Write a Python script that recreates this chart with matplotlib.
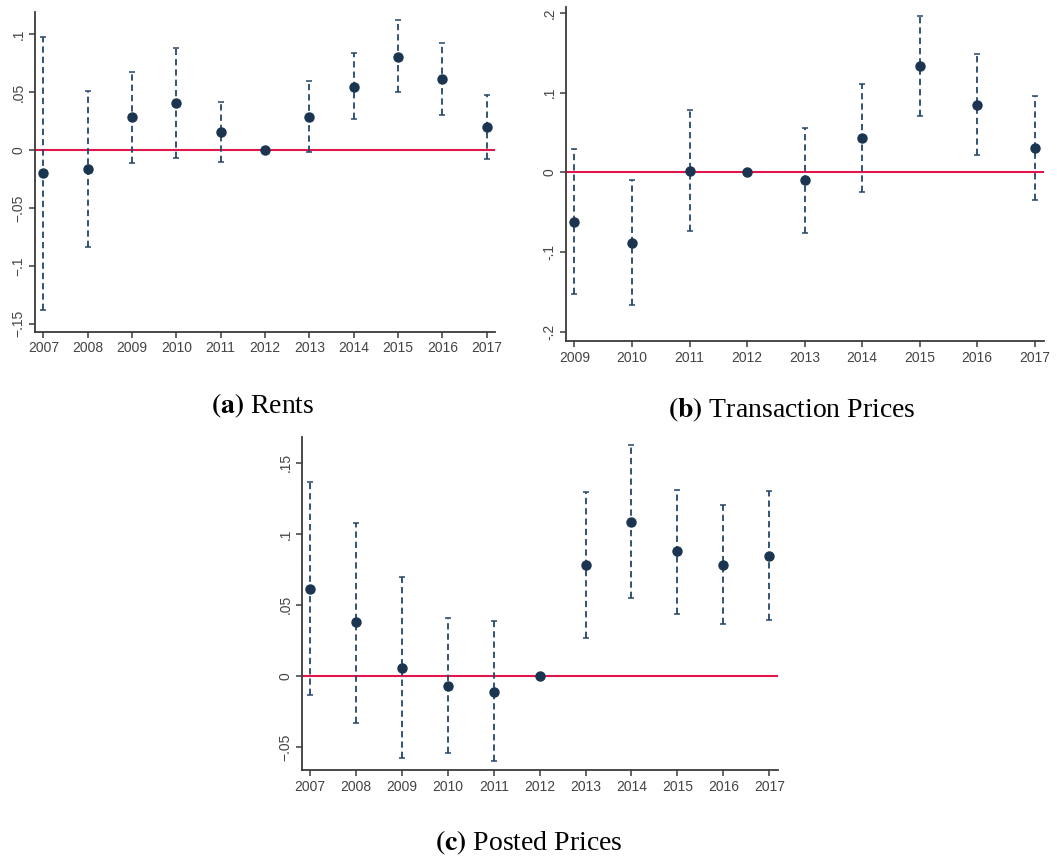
import matplotlib
matplotlib.use("Agg")
import matplotlib.pyplot as plt

plt.rcParams['font.family'] = ['Liberation Sans', 'DejaVu Sans']
plt.rcParams['mathtext.fontset'] = 'stix'

# (a) Rents
years_a = [2007, 2008, 2009, 2010, 2011, 2012, 2013, 2014, 2015, 2016, 2017]
est_a = [-0.0202, -0.0164, 0.0283, 0.041, 0.0159, 0.0, 0.0289, 0.0545, 0.0808, 0.0612, 0.0196]
lo_a = [-0.138, -0.0837, -0.0107, -0.0066, -0.0101, 0.0, -0.0014, 0.0268, 0.0499, 0.0303, -0.0081]
hi_a = [0.0975, 0.0514, 0.0678, 0.0886, 0.0413, 0.0, 0.0597, 0.0837, 0.1125, 0.0923, 0.0476]
yticks_a = [-0.15, -0.1, -0.05, 0, 0.05, 0.1]
ylabels_a = ['\u2212.15', '\u2212.1', '\u2212.05', '0', '.05', '.1']

# (b) Transaction prices
years_b = [2009, 2010, 2011, 2012, 2013, 2014, 2015, 2016, 2017]
est_b = [-0.062, -0.0886, 0.0017, 0.0, -0.0101, 0.043, 0.1333, 0.0844, 0.0308]
lo_b = [-0.153, -0.1667, -0.073, 0.0, -0.0755, -0.0249, 0.0709, 0.0215, -0.0346]
hi_b = [0.0295, -0.0101, 0.078, 0.0, 0.0553, 0.1105, 0.1962, 0.148, 0.0958]
yticks_b = [-0.2, -0.1, 0, 0.1, 0.2]
ylabels_b = ['-.2', '-.1', '0', '.1', '.2']

# (c) Posted prices
years_c = [2007, 2008, 2009, 2010, 2011, 2012, 2013, 2014, 2015, 2016, 2017]
est_c = [0.0615, 0.0376, 0.0059, -0.0068, -0.011, 0.0, 0.0782, 0.1085, 0.0876, 0.0784, 0.0847]
lo_c = [-0.0136, -0.0329, -0.0575, -0.0545, -0.0599, 0.0, 0.0265, 0.0547, 0.0434, 0.0364, 0.0394]
hi_c = [0.1364, 0.1075, 0.0697, 0.0411, 0.0383, 0.0, 0.1291, 0.1624, 0.131, 0.1202, 0.1303]
yticks_c = [-0.05, 0, 0.05, 0.1, 0.15]
ylabels_c = ['\u2212.05', '0', '.05', '.1', '.15']

PT_COL = '#1b3550'
BAR_COL = '#24476b'
RED = '#e3164b'
AX_COL = '#3a3a3a'

fig = plt.figure(figsize=(10.57, 8.6), dpi=100)


def panel(rect, years, est, lo, hi, yticks, ylabels, xlim, ylim, caption, cap_xy):
    ax = fig.add_axes(rect)
    ax.axhline(0, color=RED, lw=1.5, zorder=1)
    yerr = [[e - l for e, l in zip(est, lo)], [h - e for e, h in zip(est, hi)]]
    eb = ax.errorbar(years, est, yerr=yerr, fmt='none', ecolor=BAR_COL,
                     elinewidth=1.3, capsize=2.5, capthick=1.1, zorder=2)
    for lc in eb[2]:
        lc.set_linestyle((0, (3.5, 2.2)))
    ax.plot(years, est, 'o', color=PT_COL, ms=6.5, zorder=3)
    ax.set_xlim(*xlim)
    ax.set_ylim(*ylim)
    ax.set_xticks(years)
    ax.set_xticklabels([str(y) for y in years])
    ax.set_yticks(yticks)
    ax.set_yticklabels(ylabels, rotation=90, va='center')
    for s in ['top', 'right']:
        ax.spines[s].set_visible(False)
    for s in ['left', 'bottom']:
        ax.spines[s].set_color(AX_COL)
        ax.spines[s].set_linewidth(1.3)
    ax.tick_params(colors=AX_COL, labelcolor='#444444', labelsize=10,
                   length=4, width=1.1, pad=3)
    fig.text(cap_xy[0], cap_xy[1], caption, ha='center', va='center',
             fontsize=20, family='Liberation Serif')
    return ax


panel([0.0331, 0.6143, 0.4352, 0.3717], years_a, est_a, lo_a, hi_a,
      yticks_a, ylabels_a, (2006.81, 2017.19), (-0.157, 0.1194),
      r'$\mathbf{(a)}$ Rents', (263 / 1057, 1 - 406 / 860))
panel([0.5355, 0.6035, 0.4522, 0.3887], years_b, est_b, lo_b, hi_b,
      yticks_b, ylabels_b, (2008.854, 2017.16), (-0.2115, 0.2077),
      r'$\mathbf{(b)}$ Transaction Prices', (792 / 1057, 1 - 410 / 860))
panel([0.2857, 0.1047, 0.4506, 0.3869], years_c, est_c, lo_c, hi_c,
      yticks_c, ylabels_c, (2006.826, 2017.196), (-0.0662, 0.168),
      r'$\mathbf{(c)}$ Posted Prices', (529 / 1057, 1 - 843 / 860))

fig.savefig('out.png', dpi=100, facecolor='white')
